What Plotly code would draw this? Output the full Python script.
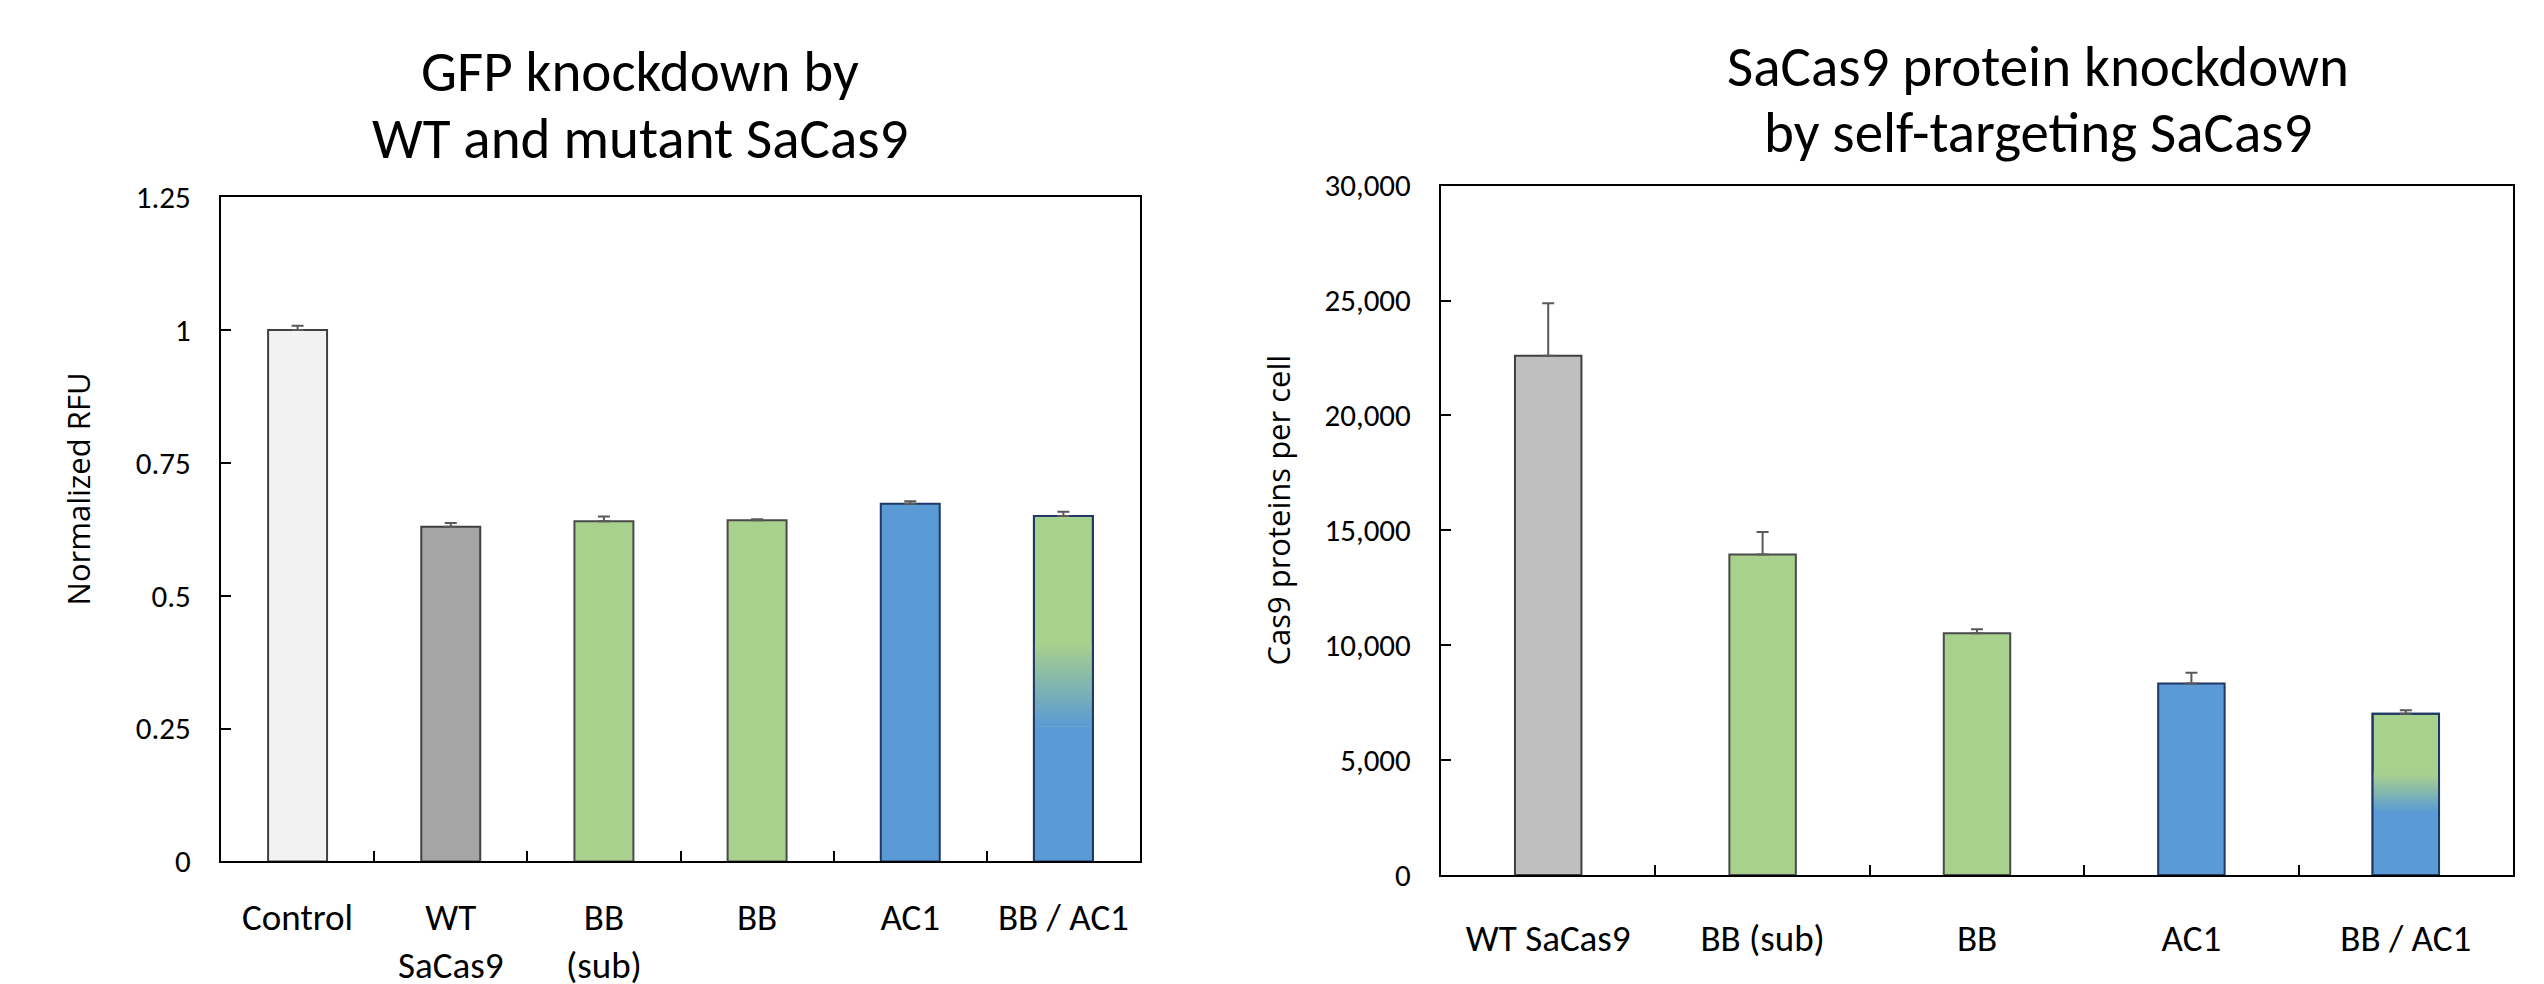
import plotly.graph_objects as go

W, H = 2544, 984

# ---------------- data ----------------
left_categories = ["Control", "WT<br>SaCas9", "BB<br>(sub)", "BB", "AC1", "BB / AC1"]
left_values = [1.0, 0.63, 0.64, 0.642, 0.673, 0.65]
left_errors = [0.008, 0.007, 0.009, 0.002, 0.005, 0.008]
left_ytickvals = [0, 0.25, 0.5, 0.75, 1, 1.25]
left_yticktext = ["0", "0.25", "0.5", "0.75", "1", "1.25"]

right_categories = ["WT SaCas9", "BB (sub)", "BB", "AC1", "BB / AC1"]
right_values = [22600, 13950, 10520, 8330, 7010]
right_errors = [2280, 970, 170, 470, 160]
right_ytickvals = [0, 5000, 10000, 15000, 20000, 25000, 30000]

left_title_lines = ["GFP knockdown by", "WT and mutant SaCas9"]
right_title_lines = ["SaCas9 protein knockdown", "by self-targeting SaCas9"]
left_ylabel = "Normalized RFU"
right_ylabel = "Cas9 proteins per cell"

# ---------------- styles ----------------
GREEN = (169, 209, 142)
BLUE = (91, 155, 213)
rgb = lambda c: "rgb(%d,%d,%d)" % c
NAVY = "#1F3864"
DARK = "#404040"

left_fill = ["#F2F2F2", "#A5A5A5", rgb(GREEN), rgb(GREEN), rgb(BLUE), rgb(GREEN)]
left_line = [DARK, DARK, "#4A4A4A", "#4A4A4A", NAVY, NAVY]
right_fill = ["#BFBFBF", rgb(GREEN), rgb(GREEN), rgb(BLUE), rgb(GREEN)]
right_line = [DARK, "#4A4A4A", "#4A4A4A", NAVY, NAVY]

CAL = "Carlito, Calibri, Lato, sans-serif"
SEG = "'Open Sans', 'Segoe UI', sans-serif"

# gradient (fraction of bar height) for the mixed bar
G0, G1, NSLICE = 0.39, 0.63, 40


def px(x):
    return x / W


def py(y):
    return 1 - y / H


fig = go.Figure()


def add_panel(cats, vals, errs, fills, lines, width, xa, ya):
    xref = "x" if xa == "xaxis" else "x2"
    yref = "y" if ya == "yaxis" else "y2"
    fig.add_trace(go.Bar(
        x=cats, y=vals, width=width,
        marker=dict(color=fills, line=dict(color=lines, width=2)),
        xaxis=xref, yaxis=yref, showlegend=False, hoverinfo="skip"))
    # gradient part of the last (mixed) bar
    v = vals[-1]
    c = cats[-1]
    bases = [0.0]
    heights = [v * G0]
    colors = [rgb(BLUE)]
    step = (G1 - G0) / NSLICE
    for i in range(NSLICE):
        t = (i + 0.5) / NSLICE
        col = tuple(BLUE[k] + (GREEN[k] - BLUE[k]) * t for k in range(3))
        bases.append(v * (G0 + step * i))
        heights.append(v * step * 1.6)
        colors.append(rgb(col))
    fig.add_trace(go.Bar(
        x=[c] * len(bases), y=heights, base=bases, width=width,
        marker=dict(color=colors, line=dict(width=0)),
        xaxis=xref, yaxis=yref, showlegend=False, hoverinfo="skip"))
    # outline on top
    fig.add_trace(go.Bar(
        x=[c], y=[v], width=width,
        marker=dict(color="rgba(0,0,0,0)", line=dict(color=NAVY, width=2)),
        xaxis=xref, yaxis=yref, showlegend=False, hoverinfo="skip"))
    # error bars (upper only)
    fig.add_trace(go.Scatter(
        x=cats, y=vals, mode="markers",
        marker=dict(size=1, color="rgba(0,0,0,0)"),
        error_y=dict(type="data", symmetric=False, array=errs,
                     arrayminus=[0] * len(errs), color="#595959",
                     thickness=2, width=6),
        xaxis=xref, yaxis=yref, showlegend=False, hoverinfo="skip"))


add_panel(left_categories, left_values, left_errors, left_fill, left_line, 0.385, "xaxis", "yaxis")
add_panel(right_categories, right_values, right_errors, right_fill, right_line, 0.31, "xaxis2", "yaxis2")

axis_common = dict(showline=True, linecolor="black", linewidth=2, mirror=True,
                   ticks="inside", ticklen=10, tickwidth=2, tickcolor="black",
                   showgrid=False, zeroline=False)

annotations = []
for i, (line, yc) in enumerate(zip(left_title_lines, [46, 116])):
    annotations.append(dict(text=line, x=px(632), y=py(yc), xref="paper", yref="paper",
                            xanchor="center", yanchor="middle", showarrow=False,
                            font=dict(family=CAL, size=57, color="black")))
for i, (line, yc) in enumerate(zip(right_title_lines, [41, 110])):
    annotations.append(dict(text=line, x=px(2030), y=py(yc), xref="paper", yref="paper",
                            xanchor="center", yanchor="middle", showarrow=False,
                            font=dict(family=CAL, size=57, color="black")))
annotations += [
    dict(text=left_ylabel, x=px(70), y=py(481), xref="paper", yref="paper",
         xanchor="center", yanchor="middle", textangle=-90, showarrow=False,
         font=dict(family=SEG, size=31, color="black")),
    dict(text=right_ylabel, x=px(1270), y=py(503), xref="paper", yref="paper",
         xanchor="center", yanchor="middle", textangle=-90, showarrow=False,
         font=dict(family=SEG, size=31, color="black")),
]

fig.update_layout(
    width=W, height=H, margin=dict(l=0, r=0, t=0, b=0),
    paper_bgcolor="white", plot_bgcolor="white",
    barmode="overlay",
    xaxis=dict(domain=[px(213), px(1132)], anchor="y", type="category",
               categoryorder="array", categoryarray=left_categories,
               tickson="boundaries", ticklabelstandoff=22,
               tickfont=dict(family=CAL, size=37, color="black"), **axis_common),
    yaxis=dict(domain=[py(868), py(177)], anchor="x", range=[0, 1.25],
               tickvals=left_ytickvals, ticktext=left_yticktext, ticklabelstandoff=22,
               tickfont=dict(family=CAL, size=31, color="black"), **axis_common),
    xaxis2=dict(domain=[px(1433), px(2505)], anchor="y2", type="category",
                categoryorder="array", categoryarray=right_categories,
                tickson="boundaries", ticklabelstandoff=30,
                tickfont=dict(family=CAL, size=37, color="black"), **axis_common),
    yaxis2=dict(domain=[py(882), py(165)], anchor="x2", range=[0, 30000],
                tickvals=right_ytickvals, tickformat=",", ticklabelstandoff=22,
                tickfont=dict(family=CAL, size=31, color="black"), **axis_common),
    annotations=annotations,
)

fig.write_html("out.html")
